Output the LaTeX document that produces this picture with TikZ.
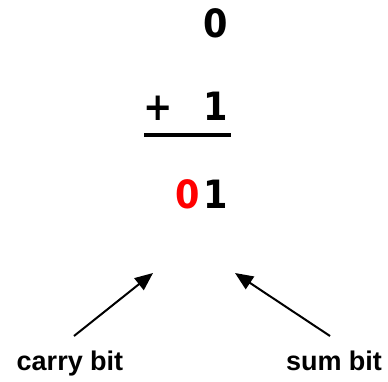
\documentclass[tikz,border=0pt]{standalone}
\usepackage{fontspec}
\setmainfont{Liberation Sans}
\newfontfamily\digitfont{DejaVu Sans Condensed}
\usepackage{xcolor}
\usepackage{tikz}
\usetikzlibrary{arrows.meta,positioning,calc}
\definecolor{carryred}{HTML}{FF0000}

\begin{document}
\begin{tikzpicture}[x=1pt,y=-1pt,
  digit/.style={inner sep=0pt, anchor=base, font=\digitfont\bfseries\fontsize{39}{39}\selectfont},
  bitlabel/.style={inner sep=0pt, anchor=base, font=\bfseries\fontsize{27}{27}\selectfont},
  pointer/.style={line width=2pt, -{Triangle[length=18pt,width=15pt]}}]
\useasboundingbox (0,0) rectangle (388,381);
% the sum, one column per digit
\node[digit] (top) at (216,37) {0};
\node[digit] (plus) at (158,120) {+};
\node[digit] (addend) at (216,120) {1};
\draw[line width=4pt] (144,135) -- (230.5,135);
\node[digit, text=carryred] (carrydigit) at (187.5,208) {0};
\node[digit] (sumdigit) at (216,208) {1};
% labels and pointers
\node[bitlabel] (carry) at (70,370) {carry bit};
\node[bitlabel] (sum) at (334,370) {sum bit};
\coordinate (carrytail) at (74,336);
\coordinate (carrytip) at (153,273);
\coordinate (sumtail) at (330,336);
\coordinate (sumtip) at (235,273);
\draw[pointer] (carrytail) -- (carrytip);
\draw[pointer] (sumtail) -- (sumtip);
\end{tikzpicture}
\end{document}
